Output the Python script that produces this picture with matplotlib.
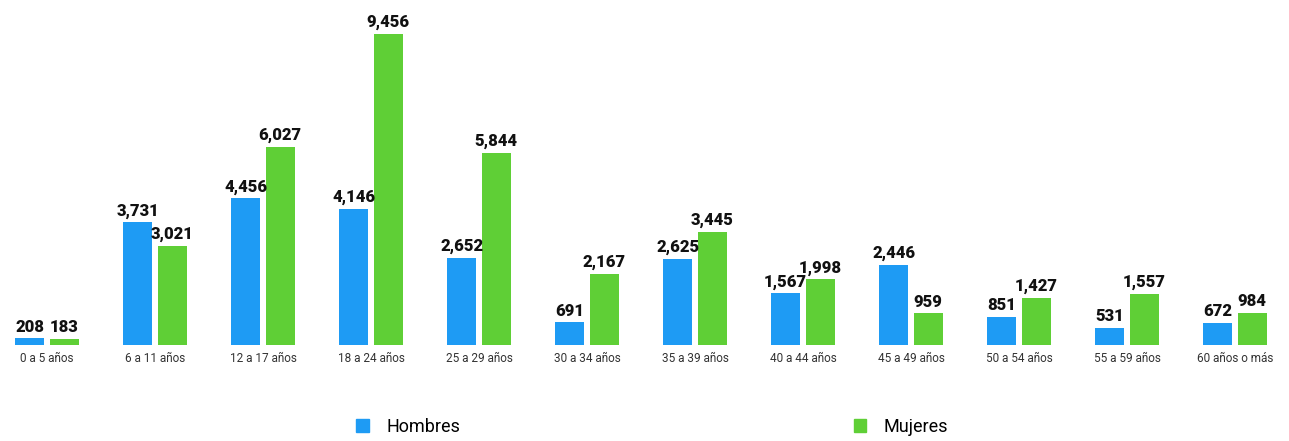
import numpy as np
import matplotlib
matplotlib.use("Agg")
import matplotlib.pyplot as plt
from matplotlib.patches import Patch

grupos = ["0 a 5 años", "6 a 11 años", "12 a 17 años", "18 a 24 años",
          "25 a 29 años", "30 a 34 años", "35 a 39 años", "40 a 44 años",
          "45 a 49 años", "50 a 54 años", "55 a 59 años", "60 años o más"]
hombres = [208, 3731, 4456, 4146, 2652, 691, 2625, 1567, 2446, 851, 531, 672]
mujeres = [183, 3021, 6027, 9456, 5844, 2167, 3445, 1998, 959, 1427, 1557, 984]

azul = "#1e9bf4"
verde = "#5fcf36"

plt.rcParams['font.family'] = ['Roboto', 'DejaVu Sans']

fig = plt.figure(figsize=(12.89, 4.41), dpi=100)
ax = fig.add_axes([0, 0.2177, 1, 0.7823])

x = np.arange(len(grupos))
w = 0.27
off = 0.16
b1 = ax.bar(x - off, hombres, w, color=azul)
b2 = ax.bar(x + off, mujeres, w, color=verde)

# etiquetas de valor sobre cada barra
for barras, vals in ((b1, hombres), (b2, mujeres)):
    for r, v in zip(barras, vals):
        ax.text(r.get_x() + r.get_width() / 2, v + 110, f"{v:,}",
                ha="center", va="bottom", fontsize=12, fontweight="black",
                color="#111111")

ax.set_xlim(-0.435, 11.5)
ax.set_ylim(0, 10490)
ax.set_xticks(x)
ax.set_xticklabels(grupos, fontsize=8.5, color="#333333")
ax.tick_params(axis="x", length=0, pad=5)
ax.set_yticks([])
for s in ax.spines.values():
    s.set_visible(False)

handles = [Patch(color=azul, label="Hombres"), Patch(color=verde, label="Mujeres")]
fig.legend(handles=handles, loc="lower center", bbox_to_anchor=(0.506, -0.025),
           ncol=2, frameon=False, fontsize=13, handlelength=0.7, handleheight=0.7,
           handletextpad=0.95, columnspacing=21.8)

fig.savefig("out.png", dpi=100)
